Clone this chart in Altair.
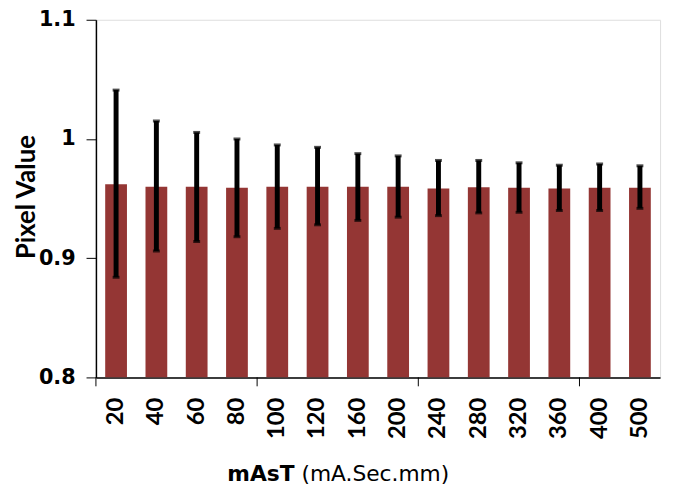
import altair as alt
import pandas as pd

categories = ["20", "40", "60", "80", "100", "120", "160", "200", "240", "280", "320", "360", "400", "500"]
means = [0.962, 0.960, 0.960, 0.959, 0.960, 0.960, 0.960, 0.960, 0.9585, 0.9595, 0.959, 0.9585, 0.959, 0.959]
err_hi = [1.041, 1.015, 1.0055, 1.000, 0.995, 0.993, 0.9877, 0.9858, 0.982, 0.982, 0.980, 0.978, 0.979, 0.9775]
err_lo = [0.884, 0.906, 0.914, 0.918, 0.925, 0.928, 0.9317, 0.9344, 0.9357, 0.938, 0.9385, 0.940, 0.940, 0.9418]
x_tick_positions = [0, 4, 8, 12]

FONT_V = "Lato"          # rotated texts
FONT_H = "DejaVu Sans"   # horizontal texts (wide face)
BAR = "#943634"
W, H = 571, 362

df = pd.DataFrame({"cat": categories, "mean": means, "hi": err_hi, "lo": err_lo})
ticks_df = pd.DataFrame({"pos": x_tick_positions})

xenc = alt.X("cat:N", sort=categories,
             scale=alt.Scale(paddingInner=0.46, paddingOuter=0.23),
             axis=alt.Axis(title=None, labelAngle=270, labelAlign="right", labelBaseline="middle",
                           labelPadding=20, labelFontSize=24, labelFontWeight="bold", labelFont=FONT_V,
                           labelColor="black", ticks=False, domainColor="black", domainWidth=1.5))
yscale = alt.Scale(domain=[0.8, 1.1], nice=False, zero=False)

bars = alt.Chart(df).mark_bar(color=BAR, clip=True).encode(
    x=xenc,
    y=alt.Y("mean:Q", scale=yscale,
            axis=alt.Axis(title="Pixel Value", values=[0.8, 0.9, 1.0, 1.1], format=".1~f",
                          labelFontSize=21, labelFontWeight="bold", labelFont=FONT_H, labelColor="black",
                          tickSize=10, tickColor="black", tickWidth=1, labelPadding=11,
                          domainColor="black", domainWidth=1.5, grid=False,
                          titleFont=FONT_V, titleFontSize=26, titleFontWeight="bold", titleColor="black",
                          titleX=-70, titleY=179, titleAngle=270, titleAlign="center", titleBaseline="middle")),
    y2=alt.datum(0.8),
)

rules = alt.Chart(df).mark_rule(color="black", strokeWidth=5).encode(
    x=alt.X("cat:N", sort=categories), y=alt.Y("lo:Q", scale=yscale), y2="hi:Q")
caps_hi = alt.Chart(df).mark_tick(color="black", thickness=3, size=7).encode(
    x=alt.X("cat:N", sort=categories), y=alt.Y("hi:Q", scale=yscale))
caps_lo = alt.Chart(df).mark_tick(color="black", thickness=3, size=7).encode(
    x=alt.X("cat:N", sort=categories), y=alt.Y("lo:Q", scale=yscale))

xticks = alt.Chart(ticks_df).mark_rule(color="black", strokeWidth=1).encode(
    x=alt.X("pos:Q", scale=alt.Scale(domain=[0, 14], nice=False, zero=False), axis=None),
    y=alt.value(H), y2=alt.value(H + 9))

title_bold = alt.Chart(ticks_df.head(1)).mark_text(
    text="mAsT", font=FONT_H, fontSize=22, fontWeight="bold", align="right", baseline="alphabetic",
    color="black").encode(x=alt.value(201), y=alt.value(467))
title_norm = alt.Chart(ticks_df.head(1)).mark_text(
    text="(mA.Sec.mm)", font=FONT_H, fontSize=22, fontWeight="normal", align="left", baseline="alphabetic",
    color="black").encode(x=alt.value(208), y=alt.value(467))

main = alt.layer(bars, rules, caps_hi, caps_lo)
chart = alt.layer(main, xticks, title_bold, title_norm).resolve_scale(x="independent").properties(
    width=W, height=H,
    autosize=alt.AutoSizeParams(type="none"),
    padding={"left": 89, "top": 9, "right": 6, "bottom": 107},
).configure_view(stroke="black", strokeWidth=1.5).configure(background="white")

chart.save("out.html", embed_options={"renderer": "svg", "actions": False})
